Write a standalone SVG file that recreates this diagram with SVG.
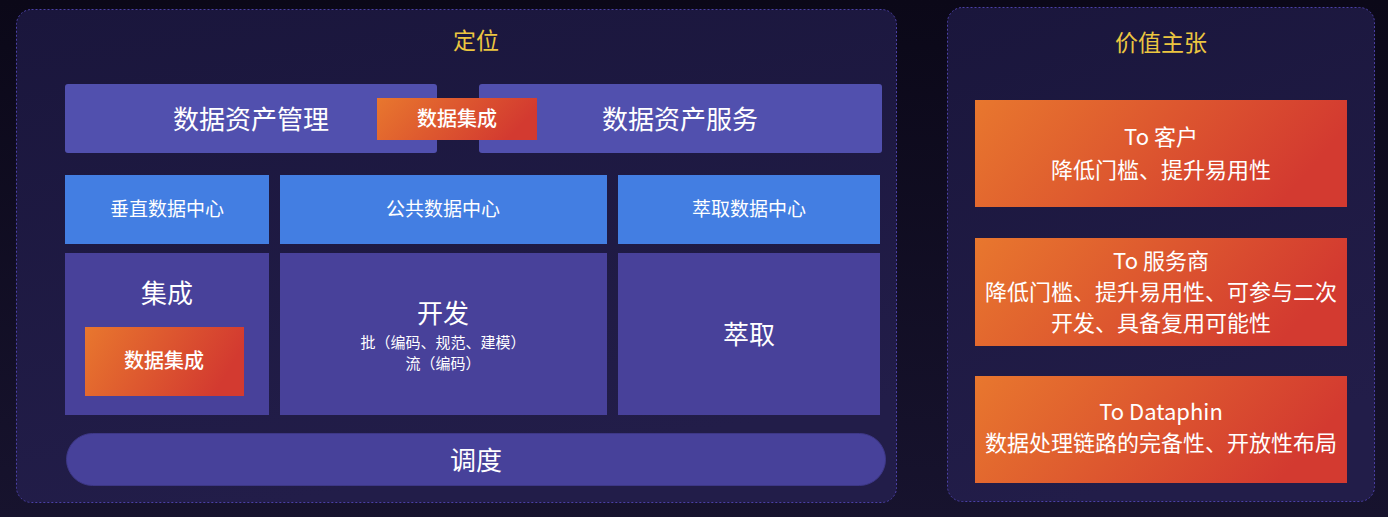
<svg xmlns="http://www.w3.org/2000/svg" width="1388" height="517" viewBox="0 0 1388 517">
<defs>
<linearGradient id="bg" x1="0" y1="0" x2="0" y2="1">
<stop offset="0" stop-color="#0b0818"/>
<stop offset="1" stop-color="#17132e"/>
</linearGradient>
<linearGradient id="panel" x1="0" y1="0" x2="0.3" y2="1">
<stop offset="0" stop-color="#1a163c"/>
<stop offset="1" stop-color="#221d49"/>
</linearGradient>
<linearGradient id="hot" x1="0" y1="0" x2="1" y2="0.25">
<stop offset="0" stop-color="#e8772e"/>
<stop offset="1" stop-color="#d33a30"/>
</linearGradient>
<style>
text{font-family:"Noto Sans CJK SC","Liberation Sans",sans-serif;fill:#ffffff;text-anchor:middle;dominant-baseline:central}
.panel{fill:url(#panel);stroke:#4b40a6;stroke-width:1;stroke-dasharray:2 2}
.title{fill:#ecc640;font-size:23px}
.top{fill:#5150ae}
.blue{fill:#437ee2}
.mid{fill:#48419a}
.hot{fill:url(#hot)}
.big{font-size:26px}
.lbl{font-size:19px}
.tag{font-size:20px;font-weight:500}
.small{font-size:15px}
.val{font-size:22px}
</style>
</defs>
<rect width="1388" height="517" fill="url(#bg)"/>

<g id="panel-positioning">
<rect class="panel" x="16.5" y="9.5" width="880" height="493" rx="15"/>
<text class="title" x="476" y="39">定位</text>
</g>

<g id="asset-mgmt">
<rect class="top" x="65" y="84" width="372" height="69" rx="3"/>
<text class="big" x="251" y="117">数据资产管理</text>
</g>
<g id="asset-service">
<rect class="top" x="479" y="84" width="403" height="69" rx="3"/>
<text class="big" x="680" y="117">数据资产服务</text>
</g>
<g id="integration-top">
<rect class="hot" x="377" y="98" width="160" height="42"/>
<text class="tag" x="457" y="117">数据集成</text>
</g>

<g id="vertical-dc">
<rect class="blue" x="65" y="175" width="204" height="69"/>
<text class="lbl" x="167" y="207">垂直数据中心</text>
</g>
<g id="public-dc">
<rect class="blue" x="280" y="175" width="327" height="69"/>
<text class="lbl" x="443" y="207">公共数据中心</text>
</g>
<g id="extract-dc">
<rect class="blue" x="618" y="175" width="262" height="69"/>
<text class="lbl" x="749" y="207">萃取数据中心</text>
</g>

<g id="integration">
<rect class="mid" x="65" y="253" width="204" height="162"/>
<text class="big" x="167" y="291">集成</text>
</g>
<g id="integration-inner">
<rect class="hot" x="85" y="327" width="159" height="69"/>
<text class="tag" x="164" y="359">数据集成</text>
</g>
<g id="develop">
<rect class="mid" x="280" y="253" width="327" height="162"/>
<text class="big" x="443" y="311">开发</text>
<text class="small" x="443" y="341">批（编码、规范、建模）</text>
<text class="small" x="443" y="362">流（编码）</text>
</g>
<g id="extract">
<rect class="mid" x="618" y="253" width="262" height="162"/>
<text class="big" x="749" y="332">萃取</text>
</g>
<g id="schedule">
<rect x="66.5" y="433.5" width="819" height="52" rx="26" fill="#47419a" stroke="#3d3786"/>
<text class="big" x="476" y="458">调度</text>
</g>

<g id="panel-value">
<rect class="panel" x="947.5" y="7.5" width="427" height="494" rx="15"/>
<text class="title" x="1161" y="41">价值主张</text>
</g>
<g id="to-customer">
<rect class="hot" x="975" y="100" width="372" height="107"/>
<text class="val" x="1161" y="135">To 客户</text>
<text class="val" x="1161" y="168">降低门槛、提升易用性</text>
</g>
<g id="to-provider">
<rect class="hot" x="975" y="238" width="372" height="108"/>
<text class="val" x="1161" y="259">To 服务商</text>
<text class="val" x="1161" y="290">降低门槛、提升易用性、可参与二次</text>
<text class="val" x="1161" y="321">开发、具备复用可能性</text>
</g>
<g id="to-dataphin">
<rect class="hot" x="975" y="376" width="372" height="107"/>
<text class="val" x="1161" y="410">To Dataphin</text>
<text class="val" x="1161" y="441">数据处理链路的完备性、开放性布局</text>
</g>
<g id="connectors"></g>
</svg>
